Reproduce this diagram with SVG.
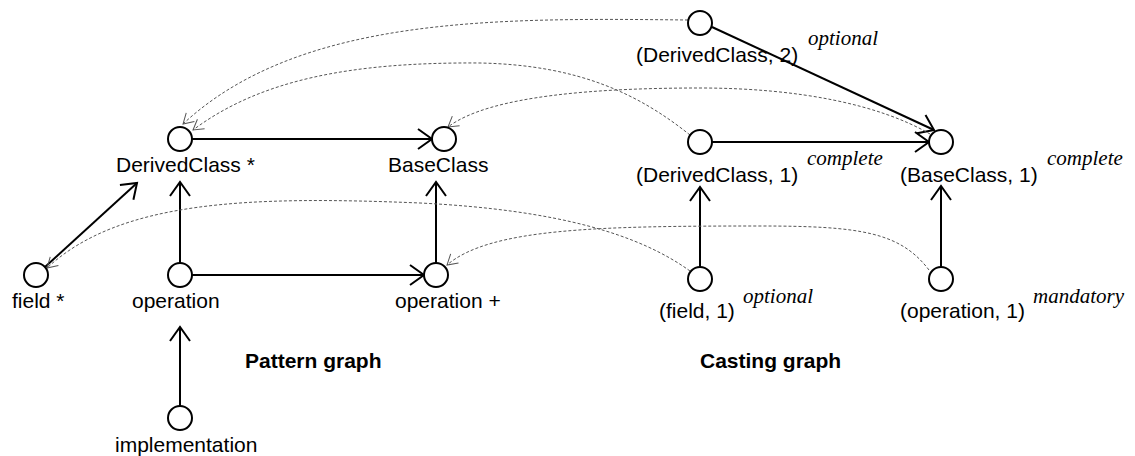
<svg xmlns="http://www.w3.org/2000/svg" width="1135" height="456" viewBox="0 0 1135 456">
<style>
.node{fill:#fff;stroke:#000;stroke-width:2}
.lbl{font-family:"Liberation Sans",Arial,sans-serif;font-size:21px;fill:#000}
.ttl{font-family:"Liberation Sans",Arial,sans-serif;font-size:21px;font-weight:bold;fill:#000}
.ann{font-family:"Liberation Serif","Times New Roman",serif;font-size:21px;font-style:italic;fill:#000}
.edge{fill:none;stroke:#000;stroke-width:2;marker-end:url(#ah)}
.map{fill:none;stroke:#555;stroke-width:1;stroke-dasharray:3 2;marker-end:url(#ahd)}
</style>
<defs>
<marker id="ah" markerUnits="userSpaceOnUse" viewBox="-17 -13 19 26" markerWidth="19" markerHeight="26" refX="0" refY="0" orient="auto" overflow="visible">
<path d="M-14,-10 L0,0 L-14,10" fill="none" stroke="#000" stroke-width="2"/>
</marker>
<marker id="ahd" markerUnits="userSpaceOnUse" viewBox="-12 -7 14 14" markerWidth="14" markerHeight="14" refX="0" refY="0" orient="auto" overflow="visible">
<path d="M-10,-6 L0,0 L-10,6" fill="none" stroke="#555" stroke-width="1"/>
</marker>
</defs>
<g id="connectors">
<path class="edge" d="M192,139 L432,139"/>
<path class="edge" d="M45,267 L137,183"/>
<path class="edge" d="M180,263 L180,182"/>
<path class="edge" d="M192,275 L424,275"/>
<path class="edge" d="M436,263 L436,182"/>
<path class="edge" d="M180,406 L180,327"/>
<path class="edge" d="M712,27 L934,130"/>
<path class="edge" d="M712,142 L929,142"/>
<path class="edge" d="M700,267 L700,187"/>
<path class="edge" d="M941,267 L941,186"/>
<path class="map" d="M688,20 C500,18 300,15 183,124"/>
<path class="map" d="M690,135 C640,95 580,65 480,63 C350,62 260,80 193,130"/>
<path class="map" d="M930,134 C880,105 800,88 700,88 C600,88 490,95 448,127"/>
<path class="map" d="M690,271 C640,235 560,210 420,203 C250,196 120,200 47,268"/>
<path class="map" d="M929,270 C900,232 860,226 760,226 C600,226 490,228 447,265"/>
</g>
<g id="n-derivedclass"><circle class="node" cx="180" cy="139" r="12"/><text class="lbl" x="116" y="172">DerivedClass *</text></g>
<g id="n-baseclass"><circle class="node" cx="444" cy="139" r="12"/><text class="lbl" x="388" y="172">BaseClass</text></g>
<g id="n-field"><circle class="node" cx="36" cy="275" r="12"/><text class="lbl" x="12" y="308">field *</text></g>
<g id="n-operation"><circle class="node" cx="180" cy="275" r="12"/><text class="lbl" x="132" y="308">operation</text></g>
<g id="n-operation-plus"><circle class="node" cx="436" cy="275" r="12"/><text class="lbl" x="395" y="308">operation +</text></g>
<g id="n-implementation"><circle class="node" cx="180" cy="418" r="12"/><text class="lbl" x="115" y="452">implementation</text></g>
<g id="t-pattern"><text class="ttl" x="245" y="368">Pattern graph</text></g>
<g id="c-derivedclass-2"><circle class="node" cx="700" cy="23" r="12"/><text class="lbl" x="636" y="62">(DerivedClass, 2)</text><text class="ann" x="808" y="45">optional</text></g>
<g id="c-derivedclass-1"><circle class="node" cx="700" cy="142" r="12"/><text class="lbl" x="636" y="182">(DerivedClass, 1)</text><text class="ann" x="807" y="165">complete</text></g>
<g id="c-baseclass-1"><circle class="node" cx="941" cy="142" r="12"/><text class="lbl" x="900" y="182">(BaseClass, 1)</text><text class="ann" x="1047" y="165">complete</text></g>
<g id="c-field-1"><circle class="node" cx="700" cy="279" r="12"/><text class="lbl" x="659" y="318">(field, 1)</text><text class="ann" x="743" y="303">optional</text></g>
<g id="c-operation-1"><circle class="node" cx="941" cy="279" r="12"/><text class="lbl" x="900" y="318">(operation, 1)</text><text class="ann" x="1033" y="303">mandatory</text></g>
<g id="t-casting"><text class="ttl" x="700" y="368">Casting graph</text></g>
</svg>
